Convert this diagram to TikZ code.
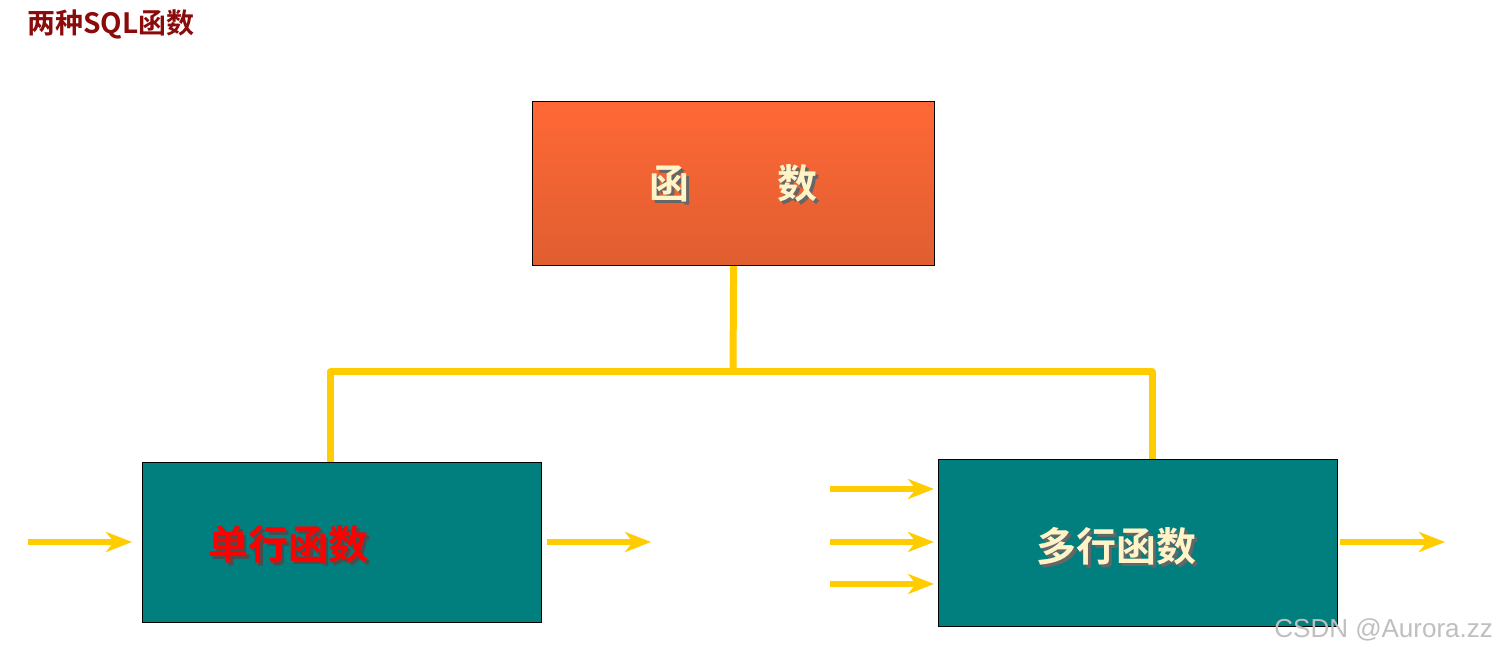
\documentclass[tikz,border=0pt]{standalone}
\usepackage{fontspec}
\newfontfamily\cjk{Noto Sans CJK SC}
\newfontfamily\cjkb{Noto Sans CJK SC Bold}
\usetikzlibrary{arrows.meta}
\definecolor{titlered}{HTML}{8B0A0A}
\definecolor{org1}{HTML}{FF6836}
\definecolor{org2}{HTML}{E05E30}
\definecolor{tealc}{HTML}{007F7E}
\definecolor{yel}{HTML}{FFCC00}
\definecolor{cream}{HTML}{FFF4C8}
\tikzset{
 conn/.style={yel,line width=3.5pt},
 arr/.style={yel,line width=3pt,-{Stealth[length=13pt,width=10pt,inset=4pt]}},
 boxt/.style={draw=black,line width=0.6pt,fill=tealc,minimum width=199.5pt,anchor=north west,inner sep=0pt},
}
\begin{document}
\begin{tikzpicture}[x=0.5pt,y=-0.5pt]
\useasboundingbox[fill=white] (0,0) rectangle (1504,656);
\node[anchor=west,text=titlered,font=\cjkb\fontsize{14}{16}\selectfont] (title) at (20,24) {两种SQL函数};
\node[draw=black,line width=0.6pt,top color=org1,bottom color=org2,minimum width=201pt,minimum height=82pt,anchor=north west,inner sep=0pt] (top) at (532,101) {};
\node[text=black!60,font=\cjkb\fontsize{20}{22}\selectfont] at ([xshift=1.5pt,yshift=-1.5pt]top.center) {函\hspace{2.2em}数};
\node[text=cream,font=\cjkb\fontsize{20}{22}\selectfont] (toptext) at (top.center) {函\hspace{2.2em}数};
\node[boxt,minimum height=80pt] (left) at (142,462) {};
\node[boxt,minimum height=83.5pt] (right) at (938,459) {};
\node[text=black!70,font=\cjkb\fontsize{20}{22}\selectfont] at ([xshift=-25.5pt,yshift=-2.5pt]left.center) {单行函数};
\node[text=red,font=\cjkb\fontsize{20}{22}\selectfont] (ltext) at ([xshift=-27pt,yshift=-1pt]left.center) {单行函数};
\node[text=black!60,font=\cjkb\fontsize{20}{22}\selectfont] at ([xshift=-9.5pt,yshift=-3pt]right.center) {多行函数};
\node[text=cream,font=\cjkb\fontsize{20}{22}\selectfont] (rtext) at ([xshift=-11pt,yshift=-1.5pt]right.center) {多行函数};
\coordinate (j) at (733,372);
\draw[conn] (top.south) -- (j);
\draw[conn,line join=round] ([xshift=-202pt]left.north east |- j) coordinate (jl) (330,462) -- (330,372) -- (1152,372) -- (1152,459);
\coordinate (a1) at (28,542); \coordinate (a1e) at (132,542);
\coordinate (a2) at (547,542); \coordinate (a2e) at (651,542);
\coordinate (b1) at (830,489); \coordinate (b1e) at (934,489);
\coordinate (b2) at (830,542); \coordinate (b2e) at (934,542);
\coordinate (b3) at (830,584); \coordinate (b3e) at (934,584);
\coordinate (c1) at (1340,542); \coordinate (c1e) at (1445,542);
\foreach \s/\e in {a1/a1e,a2/a2e,b1/b1e,b2/b2e,b3/b3e,c1/c1e} \draw[arr] (\s) -- (\e);
\node[anchor=east,text=black!25,font=\fontspec{Liberation Sans}\fontsize{13}{15}\selectfont] (wm) at (1500,630) {CSDN @Aurora.zz};
\end{tikzpicture}
\end{document}
